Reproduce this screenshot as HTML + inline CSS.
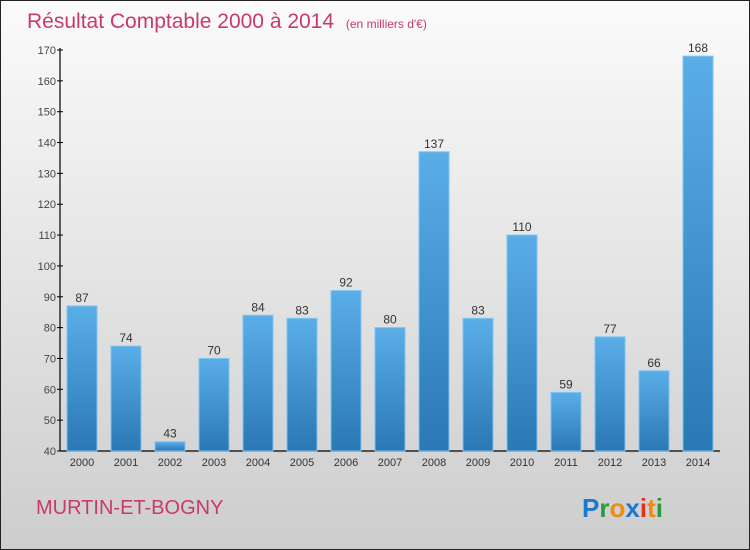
<!DOCTYPE html>
<html><head><meta charset="utf-8"><style>
body{margin:0;width:750px;height:550px;overflow:hidden}
svg{display:block;font-family:"Liberation Sans",sans-serif}
</style></head><body>
<svg id="chart" width="750" height="550">
<defs>
<linearGradient id="bg" x1="0" y1="0" x2="0" y2="1"><stop offset="0" stop-color="#fbfbfb"/><stop offset="1" stop-color="#cdcdcd"/></linearGradient>
<linearGradient id="bar" x1="0" y1="0" x2="0" y2="1"><stop offset="0" stop-color="#5aaee8"/><stop offset="1" stop-color="#2a78b4"/></linearGradient>
</defs>
<rect x="0.5" y="0.5" width="749" height="549" fill="url(#bg)" stroke="#222"/>
<text x="27" y="28" font-size="21" fill="#c83a6a">Résultat Comptable 2000 à 2014 <tspan font-size="12" dx="6">(en milliers d'€)</tspan></text>
<g id="axes"></g>
<g id="bars"></g>
<text x="36" y="514" font-size="20" fill="#c83a6a">MURTIN-ET-BOGNY</text>
<text x="582" y="517" font-size="26" font-weight="bold"><tspan fill="#1a7ad0">P</tspan><tspan fill="#2a9a3a">r</tspan><tspan fill="#f08a10">o</tspan><tspan fill="#1a7ad0">x</tspan><tspan fill="#e03020">i</tspan><tspan fill="#f08a10">t</tspan><tspan fill="#2a9a3a">i</tspan></text>
</svg>
<script>
const categories=["2000","2001","2002","2003","2004","2005","2006","2007","2008","2009","2010","2011","2012","2013","2014"];
const values=[87,74,43,70,84,83,92,80,137,83,110,59,77,66,168];
const tickLabels=[40,50,60,70,80,90,100,110,120,130,140,150,160,170];
const NS="http://www.w3.org/2000/svg";
const y0=451,yTop=50,vMin=40,vMax=170;
function yScale(v){return y0-(v-vMin)/(vMax-vMin)*(y0-yTop);}
function xScale(i){return 82+i*44;}
function mk(tag,attrs,parent){const e=document.createElementNS(NS,tag);for(const k in attrs)e.setAttribute(k,attrs[k]);parent.appendChild(e);return e;}
const ax=document.getElementById('axes'),bg=document.getElementById('bars');
let l=mk('line',{x1:60,y1:yTop-2,x2:60,y2:y0,stroke:'#000','stroke-width':1.2},ax);


l=mk('line',{x1:60,y1:y0,x2:720,y2:y0,stroke:'#000','stroke-width':1.2},ax);


tickLabels.forEach(t=>{const y=yScale(t);
 const tk=mk('line',{x1:57,y1:y,x2:63,y2:y,stroke:'#000'},ax);
 
 
 const tx=mk('text',{x:56,y:y+4,'text-anchor':'end','font-size':11,fill:'#444'},ax);tx.textContent=t;
 
 
});
categories.forEach((c,i)=>{const x=xScale(i),y=yScale(values[i]);
 const r=mk('rect',{x:x-15,y:y,width:30,height:y0-y,fill:'url(#bar)',stroke:'#7cc4f4','stroke-width':1},bg);
 
 
 const v=mk('text',{x:x,y:y-4,'text-anchor':'middle','font-size':12,fill:'#333'},bg);v.textContent=values[i];
 
 
 const xl=mk('text',{x:x,y:466,'text-anchor':'middle','font-size':11,fill:'#333'},bg);xl.textContent=c;
 
 
});
</script>
</body></html>
